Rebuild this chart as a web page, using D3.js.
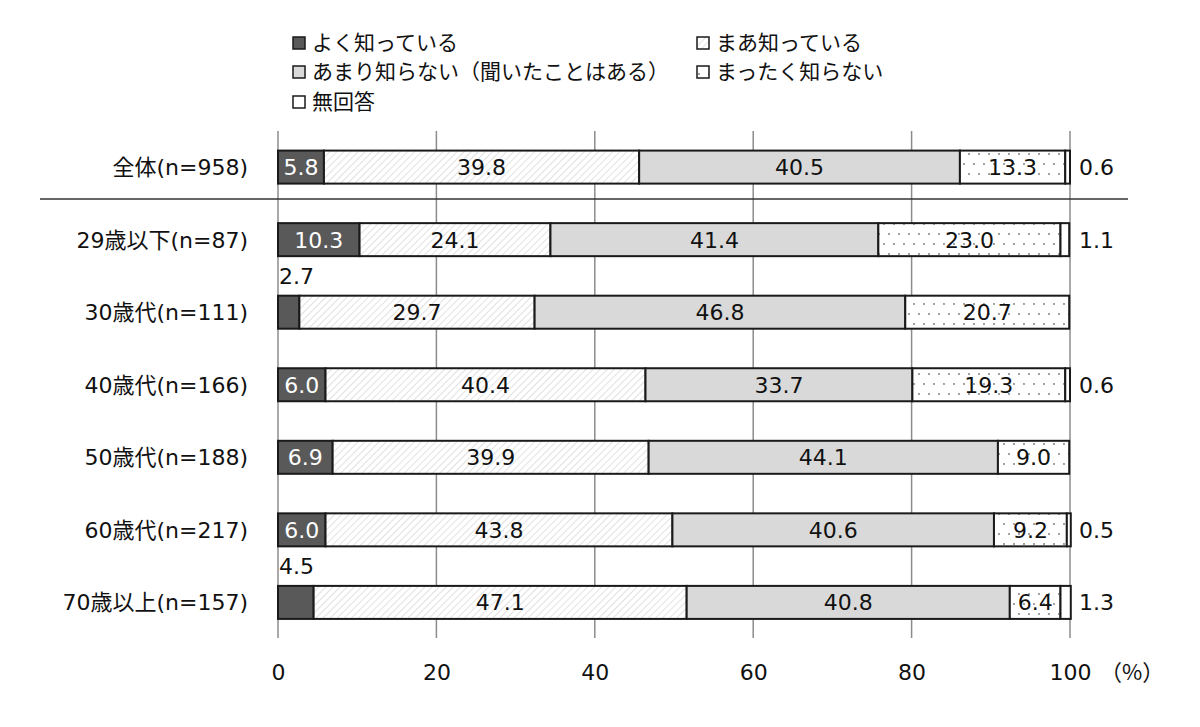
<!DOCTYPE html>
<html><head><meta charset="utf-8">
<script src="https://cdn.jsdelivr.net/npm/d3@7"></script>
<style>body{margin:0;background:#fff}svg{display:block}text{font-family:"DejaVu Sans","Noto Sans CJK JP",sans-serif}</style>
</head><body><svg id="c" width="1200" height="727"></svg>
<script>
const categories = ["全体(n=958)","29歳以下(n=87)","30歳代(n=111)","40歳代(n=166)","50歳代(n=188)","60歳代(n=217)","70歳以上(n=157)"];
const seriesNames = ["よく知っている","まあ知っている","あまり知らない（聞いたことはある）","まったく知らない","無回答"];
const s1 = [5.8,10.3,2.7,6.0,6.9,6.0,4.5];
const s2 = [39.8,24.1,29.7,40.4,39.9,43.8,47.1];
const s3 = [40.5,41.4,46.8,33.7,44.1,40.6,40.8];
const s4 = [13.3,23.0,20.7,19.3,9.0,9.2,6.4];
const s5 = [0.6,1.1,0,0.6,0,0.5,1.3];
const xTicks = [0,20,40,60,80,100];

const series = [s1,s2,s3,s4,s5];
const svg = d3.select("#c");
const defs = svg.append("defs");
const hatch = defs.append("pattern").attr("id","hatch").attr("patternUnits","userSpaceOnUse").attr("width",5).attr("height",5).attr("patternTransform","rotate(45)");
hatch.append("rect").attr("width",5).attr("height",5).attr("fill","#fff");
hatch.append("line").attr("x1",0).attr("y1",0).attr("x2",0).attr("y2",5).attr("stroke","#c4c4c4").attr("stroke-width",1);
const dots = defs.append("pattern").attr("id","dots").attr("patternUnits","userSpaceOnUse").attr("width",20).attr("height",20);
dots.append("rect").attr("width",20).attr("height",20).attr("fill","#fff");
[[4,4],[14,4],[9,14],[19,14]].forEach(p=>dots.append("circle").attr("cx",p[0]).attr("cy",p[1]).attr("r",0.9).attr("fill","#777"));
const fills = ["#595959","url(#hatch)","#d9d9d9","url(#dots)","#ffffff"];

const x = d3.scaleLinear().domain([0,100]).range([278,1070]);
const y = d3.scaleBand().domain(categories).range([131,638.5]).paddingInner(0.545).paddingOuter(0.27);

// grid
svg.append("g").selectAll("line").data(xTicks).join("line")
  .attr("x1",d=>x(d)).attr("x2",d=>x(d)).attr("y1",131).attr("y2",638)
  .attr("stroke","#8c8c8c").attr("stroke-width",1.5);
// separator
svg.append("line").attr("x1",40).attr("x2",1128).attr("y1",199).attr("y2",199).attr("stroke","#333").attr("stroke-width",1.5);

// axis
const ax = svg.append("g").attr("transform","translate(0,638)").call(d3.axisBottom(x).tickValues(xTicks).tickSize(0).tickPadding(26));
ax.select(".domain").remove();
ax.selectAll("text").attr("font-size",22).attr("fill","#111").style("font-family",'"DejaVu Sans",sans-serif');
svg.append("text").attr("x",1100).attr("y",680).attr("text-anchor","start").attr("font-size",22).attr("fill","#111")
  .style("font-family",'"Noto Sans CJK JP",sans-serif').text("（%）");

// category labels
svg.append("g").selectAll("text").data(categories).join("text")
  .attr("x",248).attr("y",d=>y(d)+y.bandwidth()/2+8).attr("text-anchor","end")
  .attr("font-size",22).attr("fill","#111").text(d=>d);

// bars
const stacked = categories.map((c,i)=>{let acc=0;return series.map((s,k)=>{const v=s[i];const o={cat:c,k,v,x0:acc,x1:acc+v};acc+=v;return o;});});
const g = svg.append("g");
stacked.forEach(row=>{
  row.forEach(d=>{
    if(d.v<=0) return;
    g.append("rect").attr("x",x(d.x0)).attr("y",y(d.cat)).attr("width",x(d.x1)-x(d.x0)).attr("height",y.bandwidth())
      .attr("fill",fills[d.k]).attr("stroke","#1a1a1a").attr("stroke-width",2);
  });
  row.forEach(d=>{
    if(d.v<=0) return;
    const cy = y(d.cat)+y.bandwidth()/2;
    let tx, ty=cy+8, anchor="middle", col = d.k===0?"#fff":"#111";
    if(d.k===4){ tx=x(100)+9; anchor="start"; col="#111"; }
    else if(d.v<5){ tx=x(d.x0)+1; anchor="start"; ty=y(d.cat)-12; col="#111"; }
    else tx=(x(d.x0)+x(d.x1))/2;
    g.append("text").attr("x",tx).attr("y",ty).attr("text-anchor",anchor).attr("font-size",22).attr("fill",col).text(d.v.toFixed(1));
  });
});

// legend
const legPos = [[293,43],[697,43],[293,72],[697,72],[293,102]];
const lg = svg.append("g");
seriesNames.forEach((n,i)=>{
  const [lx,ly]=legPos[i];
  lg.append("rect").attr("x",lx).attr("y",ly-6).attr("width",12).attr("height",12).attr("fill",fills[i]).attr("stroke","#1a1a1a").attr("stroke-width",1.5);
  lg.append("text").attr("x",lx+19).attr("y",ly+7).attr("font-size",21).attr("fill","#111")
    .style("font-family",'"Noto Sans CJK JP",sans-serif').text(n);
});
</script></body></html>
